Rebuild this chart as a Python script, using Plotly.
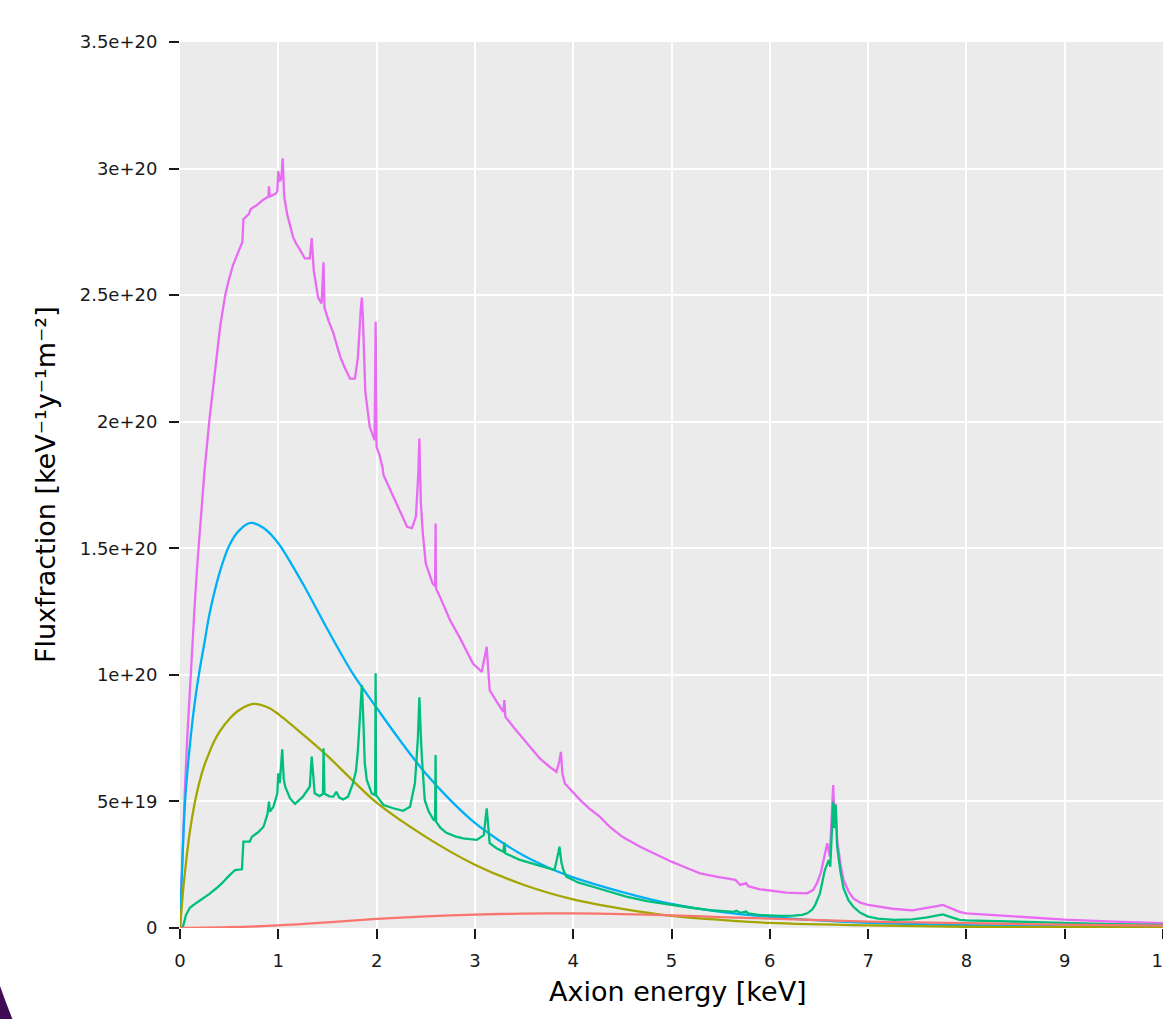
import plotly.graph_objects as go

# Values in units of 1e19 keV^-1 y^-1 m^-2
red_e = [0.0, 0.5, 1.0, 1.5, 2.0, 2.5, 3.0, 3.5, 4.0, 4.5, 5.0, 5.5, 6.0, 6.5, 7.0, 7.5, 8.0, 9.0, 10.0]
red_v = [0.0, 0.03, 0.1, 0.22, 0.36, 0.46, 0.53, 0.57, 0.58, 0.55, 0.5, 0.43, 0.37, 0.31, 0.25, 0.22, 0.19, 0.13, 0.09]

olive_e = [0.0, 0.025, 0.05, 0.1, 0.15, 0.2, 0.25, 0.3, 0.35, 0.41, 0.5, 0.6, 0.75, 0.9, 1.0, 1.25, 1.5, 1.75,
           2.0, 2.5, 3.0, 3.5, 4.0, 4.5, 5.0, 5.5, 6.0, 7.0, 8.0, 9.0, 10.0]
olive_v = [0.0, 1.2, 2.2, 3.8, 4.95, 5.8, 6.45, 6.95, 7.4, 7.8, 8.25, 8.6, 8.85, 8.7, 8.45, 7.65, 6.8, 5.85,
           4.95, 3.6, 2.5, 1.7, 1.13, 0.76, 0.48, 0.32, 0.2, 0.1, 0.05, 0.03, 0.02]

blue_e = [0.0, 0.05, 0.1, 0.15, 0.2, 0.25, 0.3, 0.4, 0.5, 0.6, 0.72, 0.85, 1.0, 1.25, 1.5, 1.75, 2.0, 2.25,
          2.5, 2.75, 3.0, 3.25, 3.5, 3.75, 4.0, 4.5, 5.0, 5.5, 6.0, 6.5, 7.0, 7.5, 8.0, 9.0, 10.0]
blue_v = [0.0, 4.9, 7.2, 8.9, 10.2, 11.3, 12.4, 14.0, 15.1, 15.7, 16.0, 15.8, 15.2, 13.6, 11.8, 10.1, 8.7, 7.35,
          6.1, 5.05, 4.15, 3.45, 2.85, 2.38, 2.0, 1.42, 0.95, 0.64, 0.44, 0.3, 0.2, 0.15, 0.11, 0.06, 0.03]

green_e = [0.0, 0.03, 0.06, 0.1, 0.17, 0.24, 0.3, 0.37, 0.43, 0.49, 0.56, 0.63, 0.645, 0.71, 0.73, 0.8, 0.85,
           0.89, 0.905, 0.915, 0.95, 0.99, 1.0, 1.015, 1.04, 1.055, 1.07, 1.12, 1.17, 1.25, 1.32, 1.34, 1.36,
           1.37, 1.42, 1.455, 1.46, 1.47, 1.52, 1.56, 1.59, 1.62, 1.66, 1.71, 1.76, 1.79, 1.81, 1.84, 1.85,
           1.86, 1.88, 1.9, 1.95, 1.985, 1.99, 1.995, 2.007, 2.07, 2.17, 2.27, 2.34, 2.39, 2.42, 2.435, 2.45,
           2.46, 2.49, 2.53, 2.58, 2.595, 2.6, 2.605, 2.65, 2.71, 2.8, 2.88, 3.02, 3.09, 3.12, 3.14, 3.15,
           3.22, 3.29, 3.3, 3.31, 3.45, 3.63, 3.81, 3.85, 3.86, 3.88, 3.9, 3.93, 4.05, 4.2, 4.37, 4.54, 4.75,
           5.0, 5.2, 5.39, 5.63, 5.66, 5.7, 5.76, 5.78, 5.9, 6.1, 6.24, 6.33, 6.38, 6.43, 6.46, 6.51, 6.56,
           6.6, 6.615, 6.645, 6.655, 6.67, 6.685, 6.72, 6.75, 6.8, 6.85, 6.92, 7.0, 7.1, 7.26, 7.45, 7.6,
           7.72, 7.76, 7.85, 7.93, 8.0, 8.5, 9.0, 9.5, 10.0]
green_v = [0.0, 0.05, 0.5, 0.8, 1.0, 1.17, 1.35, 1.57, 1.78, 2.03, 2.29, 2.32, 3.41, 3.41, 3.6, 3.8, 4.0,
           4.5, 4.99, 4.6, 4.79, 5.32, 6.11, 5.72, 7.06, 5.9, 5.58, 5.12, 4.9, 5.19, 5.58, 6.77, 5.5,
           5.32, 5.21, 5.3, 7.1, 5.3, 5.2, 5.19, 5.38, 5.15, 5.08, 5.19, 5.72, 6.2, 7.03, 9.0, 9.6,
           8.74, 6.5, 5.85, 5.32, 5.25, 10.06, 5.25, 5.19, 4.86, 4.73, 4.63, 4.79, 5.72, 7.5, 9.11, 7.6,
           6.77, 5.05, 4.6, 4.27, 4.25, 6.83, 4.2, 3.95, 3.76, 3.62, 3.54, 3.48, 3.67, 4.73, 3.6, 3.35,
           3.15, 3.01, 3.37, 2.95, 2.7, 2.49, 2.29, 3.0, 3.21, 2.6, 2.29, 2.03, 1.8, 1.63, 1.42, 1.24, 1.06,
           0.91, 0.8, 0.71, 0.64, 0.68, 0.6, 0.65, 0.58, 0.51, 0.48, 0.49, 0.52, 0.58, 0.72, 0.9, 1.37, 2.29,
           2.69, 2.42, 4.99, 3.94, 4.86, 3.21, 2.2, 1.57, 1.1, 0.84, 0.6, 0.45, 0.37, 0.32, 0.34, 0.42,
           0.5, 0.54, 0.42, 0.32, 0.3, 0.24, 0.19, 0.15, 0.12]

pink_e = [0.0, 0.02, 0.05, 0.075, 0.1, 0.125, 0.15, 0.175, 0.2, 0.25, 0.3, 0.35, 0.41, 0.46, 0.49, 0.54, 0.58,
          0.6, 0.62, 0.635, 0.645, 0.7, 0.72, 0.78, 0.84, 0.9, 0.905, 0.915, 0.97, 0.99, 1.0, 1.015, 1.03,
          1.045, 1.06, 1.09, 1.15, 1.18, 1.22, 1.27, 1.32, 1.34, 1.36, 1.405, 1.44, 1.46, 1.47, 1.51, 1.56,
          1.63, 1.68, 1.73, 1.78, 1.81, 1.84, 1.85, 1.86, 1.885, 1.93, 1.98, 1.99, 1.995, 2.0, 2.03, 2.06,
          2.07, 2.15, 2.24, 2.31, 2.36, 2.4, 2.425, 2.435, 2.45, 2.47, 2.5, 2.57, 2.595, 2.6, 2.605, 2.645,
          2.747, 2.85, 2.98, 3.07, 3.12, 3.14, 3.15, 3.22, 3.29, 3.3, 3.31, 3.4, 3.49, 3.58, 3.66, 3.75,
          3.83, 3.86, 3.875, 3.89, 3.915, 4.0, 4.07, 4.17, 4.27, 4.37, 4.5, 4.68, 4.85, 5.0, 5.15, 5.29,
          5.47, 5.65, 5.68, 5.7, 5.76, 5.78, 5.9, 6.05, 6.17, 6.3, 6.38, 6.44, 6.48, 6.52, 6.56, 6.585,
          6.61, 6.645, 6.655, 6.67, 6.685, 6.72, 6.75, 6.8, 6.85, 6.92, 7.0, 7.1, 7.25, 7.45, 7.6, 7.7,
          7.76, 7.8, 7.87, 7.93, 8.0, 8.25, 8.5, 8.75, 9.0, 9.5, 10.0]
pink_v = [0.0, 2.4, 5.5, 7.6, 9.5, 11.2, 12.8, 14.3, 15.6, 18.1, 20.1, 21.9, 23.8, 25.0, 25.5, 26.2, 26.6,
          26.8, 27.0, 27.1, 28.0, 28.2, 28.4, 28.55, 28.75, 28.9, 29.3, 28.9, 29.0, 29.1, 29.9, 29.5, 29.6,
          30.4, 28.9, 28.2, 27.3, 27.05, 26.8, 26.45, 26.45, 27.25, 26.0, 24.9, 24.67, 26.3, 24.5, 24.0, 23.5,
          22.56, 22.1, 21.7, 21.7, 22.56, 24.5, 24.9, 24.2, 21.2, 19.8, 19.27, 23.95, 19.2, 19.0, 18.68, 18.2,
          17.9, 17.2, 16.4, 15.85, 15.8, 16.25, 18.0, 19.34, 16.8, 15.6, 14.4, 13.6, 13.5, 15.98, 13.4, 13.08,
          12.16, 11.44, 10.45, 10.12, 11.11, 10.0, 9.4, 8.95, 8.54, 9.0, 8.34, 7.9, 7.49, 7.08, 6.7, 6.4,
          6.17, 6.6, 6.96, 6.1, 5.71, 5.35, 5.06, 4.7, 4.4, 4.0, 3.6, 3.21, 2.88, 2.62, 2.38, 2.16,
          2.02, 1.9, 1.78, 1.7, 1.77, 1.65, 1.53, 1.45, 1.4, 1.38, 1.37, 1.5, 1.77, 2.2, 2.95, 3.35,
          2.82, 5.65, 4.6, 4.92, 3.48, 2.5, 1.9, 1.45, 1.17, 1.0, 0.91, 0.84, 0.76, 0.7, 0.78, 0.86,
          0.91, 0.85, 0.72, 0.64, 0.58, 0.51, 0.45, 0.39, 0.33, 0.25, 0.19]

y_tick_vals = [0, 5, 10, 15, 20, 25, 30, 35]
y_tick_text = ["0", "5e+19", "1e+20", "1.5e+20", "2e+20", "2.5e+20", "3e+20", "3.5e+20"]
x_tick_vals = [0, 1, 2, 3, 4, 5, 6, 7, 8, 9, 10]

series = [
    ("pink", pink_e, pink_v, "#E76BF3", "linear"),
    ("blue", blue_e, blue_v, "#00B0F6", "spline"),
    ("olive", olive_e, olive_v, "#A3A500", "spline"),
    ("green", green_e, green_v, "#00BF7D", "linear"),
    ("red", red_e, red_v, "#F8766D", "spline"),
]

fig = go.Figure()
for name, xs, ys, col, shape in series:
    fig.add_trace(go.Scatter(x=xs, y=ys, mode="lines", name=name,
                             line=dict(color=col, width=2.3, shape=shape, smoothing=0.8),
                             showlegend=False))

font_family = "DejaVu Sans"
fig.update_layout(
    width=1163, height=1019,
    margin=dict(l=180, r=0, t=42, b=91, pad=0),
    paper_bgcolor="white",
    plot_bgcolor="#EBEBEB",
    font=dict(family=font_family, color="#1a1a1a", size=18),
    xaxis=dict(range=[0, 10], tickvals=x_tick_vals, ticks="outside", ticklen=10, tickwidth=2,
               tickcolor="#1a1a1a", showgrid=True, gridcolor="white", gridwidth=2,
               zeroline=False, showline=False, automargin=False, ticklabeloverflow="allow",
               tickfont=dict(size=18, family=font_family, color="#1a1a1a"), ticklabelstandoff=6),
    yaxis=dict(range=[0, 35], tickvals=y_tick_vals, ticktext=y_tick_text, ticks="outside",
               ticklen=10, tickwidth=2, tickcolor="#1a1a1a", showgrid=True, gridcolor="white",
               gridwidth=2, zeroline=False, showline=False, automargin=False,
               tickfont=dict(size=18, family=font_family, color="#1a1a1a"), ticklabelstandoff=8),
    annotations=[
        dict(text="Axion energy [keV]", xref="paper", yref="paper", x=0.5066, y=-0.0722,
             xanchor="center", yanchor="middle", showarrow=False,
             font=dict(size=27, family=font_family, color="black")),
        dict(text="Fluxfraction [keV⁻¹y⁻¹m⁻²]", xref="paper", yref="paper", x=-0.1373, y=0.5,
             xanchor="center", yanchor="middle", textangle=-90, showarrow=False,
             font=dict(size=27, family=font_family, color="black")),
    ],
    shapes=[
        dict(type="path", xref="paper", yref="paper", layer="above",
             path="M -0.1831,-0.0654 Q -0.1785,-0.0800 -0.1709,-0.1016 "
                  "L -0.1600,-0.1300 L -0.2000,-0.1300 L -0.2000,-0.0500 Z",
             fillcolor="#3F0C55", line=dict(width=0)),
    ],
)

fig.write_html("out.html", config={"displayModeBar": False},
               post_script="document.body.style.margin='0px';")
